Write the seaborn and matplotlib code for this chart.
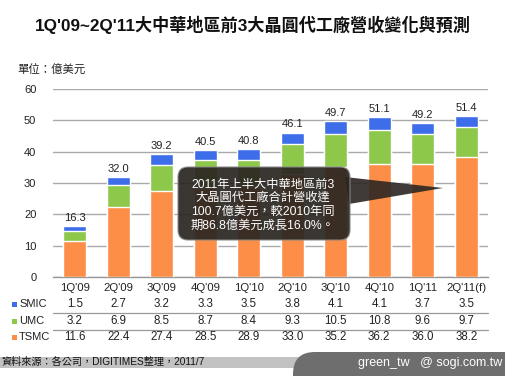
import numpy as np
import pandas as pd
import matplotlib
matplotlib.use("Agg")
import matplotlib.pyplot as plt
import seaborn as sns
from matplotlib.patches import FancyBboxPatch, Polygon, Rectangle

quarters = ["1Q'09", "2Q'09", "3Q'09", "4Q'09", "1Q'10", "2Q'10", "3Q'10", "4Q'10", "1Q'11", "2Q'11(f)"]
smic = [1.5, 2.7, 3.2, 3.3, 3.5, 3.8, 4.1, 4.1, 3.7, 3.5]
umc = [3.2, 6.9, 8.5, 8.7, 8.4, 9.3, 10.5, 10.8, 9.6, 9.7]
tsmc = [11.6, 22.4, 27.4, 28.5, 28.9, 33.0, 35.2, 36.2, 36.0, 38.2]
totals = [16.3, 32.0, 39.2, 40.5, 40.8, 46.1, 49.7, 51.1, 49.2, 51.4]
series_names = ["SMIC", "UMC", "TSMC"]
series_values = [smic, umc, tsmc]
yticks = [0, 10, 20, 30, 40, 50, 60]

title = "1Q'09~2Q'11大中華地區前3大晶圓代工廠營收變化與預測"
unit_label = "單位：億美元"
note = "2011年上半大中華地區前3\n大晶圓代工廠合計營收達\n100.7億美元，較2010年同\n期86.8億美元成長16.0%。"
source = "資料來源：各公司，DIGITIMES整理，2011/7"
watermark = "green_tw   @ sogi.com.tw"

colors = {"SMIC": "#3d6de8", "UMC": "#8dc84a", "TSMC": "#fc8e47"}

sns.set_style("white")
plt.rcParams["font.family"] = ["Liberation Sans", "Noto Sans CJK TC", "DejaVu Sans"]

W, H = 506, 376
fig = plt.figure(figsize=(W / 100, H / 100), dpi=100)
fig.patch.set_facecolor("white")

# overlay in pixel coordinates (for callout, footer, table row labels)
ov = fig.add_axes([0, 0, 1, 1], zorder=5)
ov.set_xlim(0, W)
ov.set_ylim(H, 0)
ov.axis("off")
ov.patch.set_alpha(0)

ax = fig.add_axes([53 / W, 1 - 277 / H, (488 - 53) / W, (277 - 89) / H], zorder=1)

df = pd.DataFrame({"q": quarters, "smic": smic, "umc": umc, "tsmc": tsmc})
df["top"] = df["smic"] + df["umc"] + df["tsmc"]
df["mid"] = df["umc"] + df["tsmc"]

for col, c in [("top", colors["SMIC"]), ("mid", colors["UMC"]), ("tsmc", colors["TSMC"])]:
    sns.barplot(data=df, x="q", y=col, order=quarters, color=c, width=0.53,
                saturation=1, ax=ax, zorder=3)

ax.set_ylim(0, 60)
ax.set_yticks(yticks)
ax.set_yticklabels([str(v) for v in yticks], fontsize=8, color="#222222")
ax.set_xlabel("")
ax.set_ylabel("")
ax.tick_params(axis="y", length=0, pad=12)
ax.tick_params(axis="x", length=0, pad=4, labelsize=8.2, labelcolor="#222222")
ax.grid(axis="y", color="#aaaaaa", linewidth=1.0, zorder=0)
ax.set_axisbelow(True)
for s in ["top", "right", "left"]:
    ax.spines[s].set_visible(False)
ax.spines["bottom"].set_color("#999999")
ax.spines["bottom"].set_linewidth(1.0)
ax.set_xlim(-0.5, len(quarters) - 0.5)

for i, t in enumerate(totals):
    ax.text(i, t + 1.0, f"{t:.1f}", ha="center", va="bottom", fontsize=8, color="#222222", zorder=5)

# data table
tr = ax.get_xaxis_transform()
row_y = [304, 321, 337]
for name, vals, py in zip(series_names, series_values, row_y):
    yf = -(py - 277) / 188
    for i, v in enumerate(vals):
        ax.text(i, yf, f"{v:.1f}", transform=tr, ha="center", va="center",
                fontsize=8.3, color="#222222", clip_on=False)
    ov.add_patch(Rectangle((12, py - 2.5), 5, 5, facecolor=colors[name], edgecolor="none"))
    ov.text(19, py, name, ha="left", va="center", fontsize=8, color="#222222")
for py in [312.5, 329.5]:
    yf = -(py - 277) / 188
    ax.plot([-0.5, len(quarters) - 0.5], [yf, yf], transform=tr, color="#999999",
            linewidth=0.9, clip_on=False)

# titles
ov.text(W / 2, 25, title, ha="center", va="center", fontsize=12.3, fontweight="bold", color="#111111")
ov.text(17, 70, unit_label, ha="left", va="center", fontsize=8.2, color="#222222")

# annotation callout
ov.add_patch(Polygon([(345, 177), (443, 188), (349, 204)], closed=True,
                     facecolor="#2b2622", edgecolor="none", alpha=0.9, zorder=10))
ov.add_patch(FancyBboxPatch((178, 167), 350 - 178, 240 - 167,
                            boxstyle="round,pad=0,rounding_size=10",
                            facecolor="#2b2622", edgecolor="#888888", linewidth=0.8, alpha=0.93,
                            zorder=11))
ov.text(263, 205, note, ha="center", va="center", fontsize=8.8, color="white",
        linespacing=1.18, zorder=12)

# footer
ov.add_patch(Rectangle((0, 357), 320, 11, facecolor="#c2c2c2", edgecolor="none", zorder=1))
ov.add_patch(FancyBboxPatch((293, 352), 300, 60, boxstyle="round,pad=0,rounding_size=22",
                            facecolor="#6e6e6e", edgecolor="none", zorder=2))
ov.text(2, 362, source, ha="left", va="center", fontsize=7.3, color="#111111", zorder=3)
ov.text(502, 363, watermark, ha="right", va="center", fontsize=9, color="white", zorder=3)

fig.savefig("out.png", dpi=100)
